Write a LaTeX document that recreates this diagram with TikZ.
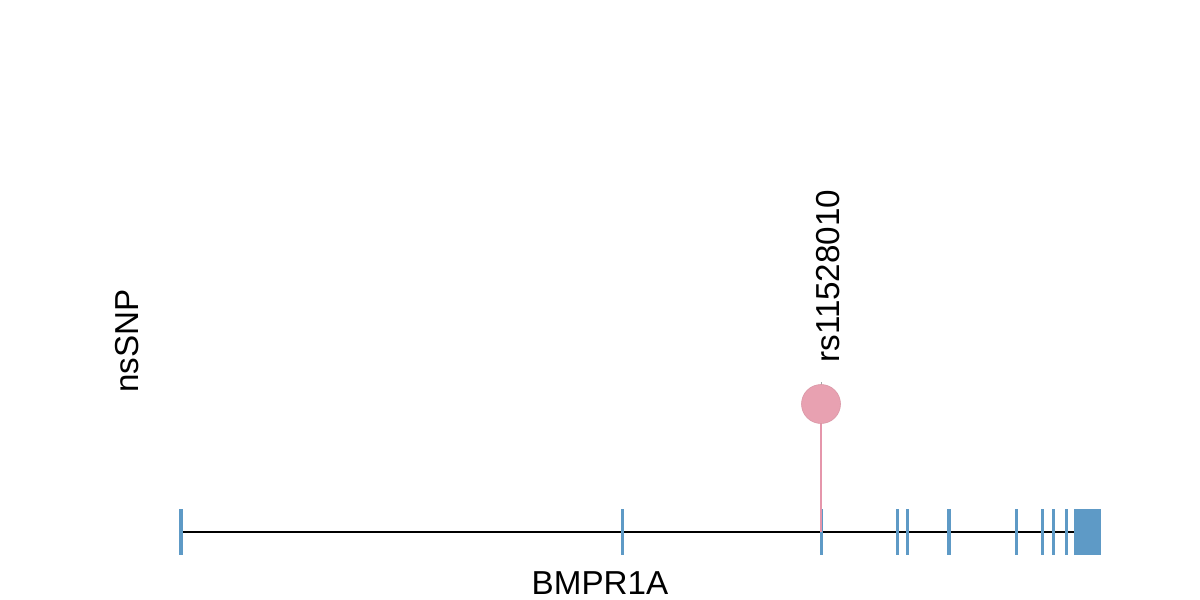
\documentclass[tikz,border=0pt]{standalone}
\usepackage{fontspec}
\setmainfont{Liberation Sans}
\definecolor{exonblue}{HTML}{5E9AC6}
\definecolor{snppink}{HTML}{E8A1B1}
\definecolor{stempink}{HTML}{E596AB}
\begin{document}
\begin{tikzpicture}[x=0.5pt,y=-0.5pt,
  exon/.style={draw=exonblue,line width=1.5pt},
  lbl/.style={font=\fontsize{16.6pt}{18pt}\selectfont,inner sep=0pt}]
\useasboundingbox (0,0) rectangle (1200,600);
% backbone
\coordinate (gs) at (181,532);
\coordinate (ge) at (1074,532);
\draw[black,line width=1pt] (gs) -- (ge);
% exons
\foreach \x/\w in {181/1.75,622/1.5,821/1.5,897/1.5,907/1.5,949/2,1016/1.5,1042/1.5,1053/1.5,1066/1.5}
  \draw[draw=exonblue,line width=\w pt] (\x,509) -- (\x,555);
\fill[exonblue] (1074,509) rectangle (1101,555);
% lollipop
\coordinate (base) at (821,532);
\draw[gray!70,line width=0.5pt] (821,382) -- (821,388);
\draw[stempink,line width=1pt] (821,404) -- (base);
\node[circle,fill=snppink,draw=snppink!90!black!60!snppink,line width=0.3pt,minimum size=19.5pt,inner sep=0pt] (snp) at (821,404) {};
% labels
\node[lbl,rotate=90,anchor=base west] (rs) at (839,363) {rs11528010};
\node[lbl,rotate=90,anchor=base west] (ns) at (138,393) {nsSNP};
\node[lbl,anchor=base,text depth=0pt] (gene) at (600,594) {BMPR1A};
\end{tikzpicture}
\end{document}
